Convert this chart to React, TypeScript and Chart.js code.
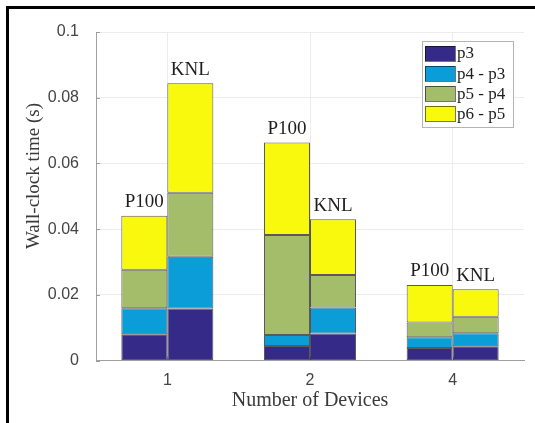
import React, { useEffect, useRef } from "react";
import { Chart, registerables } from "chart.js";

Chart.register(...registerables);

// Number of devices on the x axis
const devices = ["1", "2", "4"];
// Two platforms, drawn as side-by-side stacks per device count
const platforms = ["P100", "KNL"];
// Stacked components of the wall-clock time
const segmentNames = ["p3", "p4 - p3", "p5 - p4", "p6 - p5"];

// Wall-clock time components (s), P100
const p100P3 = [0.008, 0.0044, 0.0038];
const p100P4 = [0.0079, 0.0034, 0.0033];
const p100P5 = [0.0117, 0.0304, 0.0045];
const p100P6 = [0.0165, 0.0282, 0.0114];

// Wall-clock time components (s), KNL
const knlP3 = [0.0158, 0.0082, 0.0043];
const knlP4 = [0.0158, 0.0079, 0.004];
const knlP5 = [0.0195, 0.0099, 0.005];
const knlP6 = [0.0333, 0.017, 0.0084];

const yTicks = [0, 0.02, 0.04, 0.06, 0.08, 0.1];

const segmentColors = ["#352a87", "#0a9dd7", "#a3bd6a", "#f9f90e"];
const SERIF = "'Liberation Serif', 'Times New Roman', serif";
const SANS = "'Liberation Sans', Arial, sans-serif";

const seriesByPlatform: Record<string, number[][]> = {
  P100: [p100P3, p100P4, p100P5, p100P6],
  KNL: [knlP3, knlP4, knlP5, knlP6],
};

const framePlugin = {
  id: "frame",
  beforeDraw(chart: any) {
    const ctx = chart.ctx;
    ctx.save();
    ctx.fillStyle = "#ffffff";
    ctx.fillRect(0, 0, chart.width, chart.height);
    ctx.fillStyle = "#000000";
    ctx.fillRect(6, 6, chart.width - 6, 3);
    ctx.fillRect(6, 6, 3, chart.height - 6);
    ctx.restore();
  },
  beforeDatasetsDraw(chart: any) {
    // short inward tick marks on both axes
    const ctx = chart.ctx;
    const { left, bottom } = chart.chartArea;
    const ys = chart.scales.y;
    const xs = chart.scales.x;
    ctx.save();
    ctx.strokeStyle = "#9a9a9a";
    ctx.lineWidth = 1;
    ctx.beginPath();
    yTicks.forEach((v) => {
      const py = Math.round(ys.getPixelForValue(v)) + 0.5;
      ctx.moveTo(left, py);
      ctx.lineTo(left + 4, py);
    });
    devices.forEach((_, i) => {
      const px = Math.round(xs.getPixelForValue(i)) + 0.5;
      ctx.moveTo(px, bottom);
      ctx.lineTo(px, bottom - 4);
    });
    ctx.stroke();
    ctx.restore();
  },
  afterDraw(chart: any) {
    const ctx = chart.ctx;
    const { left, right, top, bottom } = chart.chartArea;
    ctx.save();

    // platform names above each stack
    ctx.font = `19px ${SERIF}`;
    ctx.fillStyle = "#1e1e1e";
    ctx.textAlign = "center";
    ctx.textBaseline = "bottom";
    platforms.forEach((p) => {
      const topIdx = chart.data.datasets.findIndex(
        (d: any) => d.stack === p && d.label === segmentNames[segmentNames.length - 1]
      );
      const meta = chart.getDatasetMeta(topIdx);
      meta.data.forEach((bar: any) => {
        ctx.fillText(p, bar.x, bar.y - 4);
      });
    });

    // axis titles
    ctx.fillStyle = "#3a3a3a";
    ctx.font = `20px ${SERIF}`;
    ctx.textBaseline = "middle";
    ctx.fillText("Number of Devices", (left + right) / 2, 401);
    ctx.save();
    ctx.translate(34, 176);
    ctx.rotate(-Math.PI / 2);
    ctx.font = `19px ${SERIF}`;
    ctx.fillText("Wall-clock time (s)", 0, 0);
    ctx.restore();

    // legend box
    const lx = 422;
    const ly = 41;
    const lw = 91;
    const lh = 86;
    ctx.fillStyle = "#ffffff";
    ctx.fillRect(lx, ly, lw, lh);
    ctx.strokeStyle = "#b4b4b4";
    ctx.lineWidth = 1;
    ctx.strokeRect(lx + 0.5, ly + 0.5, lw, lh);
    ctx.font = `17px ${SERIF}`;
    ctx.textAlign = "left";
    ctx.textBaseline = "middle";
    segmentNames.forEach((name, i) => {
      const cy = 53 + i * 20.2;
      ctx.fillStyle = segmentColors[i];
      ctx.fillRect(425, Math.round(cy - 7.5), 30, 15);
      ctx.strokeStyle = "rgba(0,0,0,0.55)";
      ctx.strokeRect(425.5, Math.round(cy - 7.5) + 0.5, 30, 15);
      ctx.fillStyle = "#1e1e1e";
      ctx.fillText(name, 457, cy + 1);
    });
    ctx.restore();
  },
};

export default function App() {
  const canvasRef = useRef<HTMLCanvasElement | null>(null);

  useEffect(() => {
    document.body.style.margin = "0";
    const canvas = canvasRef.current;
    if (!canvas) return;

    const datasets: any[] = [];
    platforms.forEach((p) => {
      seriesByPlatform[p].forEach((values, i) => {
        datasets.push({
          label: segmentNames[i],
          stack: p,
          data: values,
          backgroundColor: segmentColors[i],
          borderColor: "rgba(20,20,20,0.7)",
          borderWidth: 1,
          borderSkipped: false,
          categoryPercentage: 0.645,
          barPercentage: 1,
        });
      });
    });

    const chart = new Chart(canvas, {
      type: "bar",
      data: { labels: devices, datasets },
      options: {
        responsive: false,
        animation: false,
        layout: { padding: { left: 0, top: 32, right: 11, bottom: 0 } },
        plugins: {
          legend: { display: false },
          tooltip: { enabled: false },
        },
        scales: {
          x: {
            stacked: true,
            grid: { color: "#ececec", offset: false, drawTicks: false },
            border: { color: "#a0a0a0" },
            ticks: {
              color: "#444444",
              font: { family: SANS, size: 16 },
              padding: 10,
            },
            afterFit: (s: any) => {
              s.height = 62.5;
            },
          },
          y: {
            stacked: true,
            min: 0,
            max: 0.1,
            grid: { color: "#ececec", drawTicks: false },
            border: { color: "#a0a0a0" },
            afterBuildTicks: (s: any) => {
              s.ticks = yTicks.map((v) => ({ value: v }));
            },
            ticks: {
              color: "#444444",
              font: { family: SANS, size: 16 },
              padding: 17,
              callback: (v: any) => String(Number(v)),
            },
            afterFit: (s: any) => {
              s.width = 96;
            },
          },
        },
      },
      plugins: [framePlugin],
    });

    return () => chart.destroy();
  }, []);

  return (
    <div style={{ position: "absolute", left: 0, top: 0, width: 535, height: 423 }}>
      <canvas ref={canvasRef} width={535} height={423} />
    </div>
  );
}
